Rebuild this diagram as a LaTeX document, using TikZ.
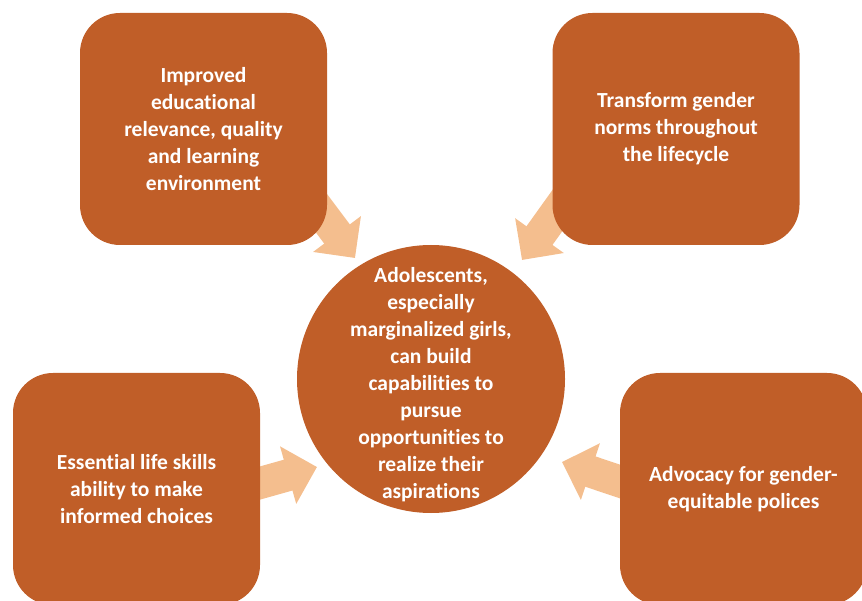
\documentclass[tikz,border=0pt]{standalone}
\usepackage{fontspec}
\setmainfont{Carlito}[Ligatures=NoCommon]
\usetikzlibrary{arrows.meta}

\definecolor{rust}{RGB}{192,94,40}
\definecolor{peach}{RGB}{244,190,142}

\tikzset{
  box/.style={fill=rust, rounded corners=40pt, minimum width=247pt, minimum height=232pt,
    text=white, font=\fontsize{21.5}{27}\selectfont\bfseries, align=center},
  hub/.style={circle, fill=rust, minimum size=268pt, inner sep=0pt},
  hubtext/.style={text=white, font=\fontsize{21.5}{27}\selectfont\bfseries, align=center},
  fatarrow/.style={draw=peach, line width=32pt, -{Triangle[width=58pt,length=30pt]}, peach}
}

\begin{document}
\begin{tikzpicture}[x=1pt,y=-1pt]
		\useasboundingbox (0,0) rectangle (862,601);
		\clip (0,0) rectangle (862,601);
		% feet of the arrows (hidden under the boxes) and their tips
		\coordinate (tlFoot) at (295,178);
		\coordinate (tlTip) at (355,258);
		\coordinate (trFoot) at (580,179);
		\coordinate (trTip) at (522,260);
		\coordinate (blFoot) at (221,494);
		\coordinate (blTip) at (317,467);
		\coordinate (brFoot) at (657,494);
		\coordinate (brTip) at (562,462);
		\draw [fatarrow] (tlFoot)--(tlTip);
		\draw [fatarrow] (trFoot)--(trTip);
		\draw [fatarrow] (blFoot)--(blTip);
		\draw [fatarrow] (brFoot)--(brTip);
		% the four boxes
		\node [box] (educ) at (203.5,129) {Improved\\educational\\relevance, quality\\and learning\\environment};
		\node [box] (norms) at (676,129) {Transform gender\\norms throughout\\the lifecycle};
		\node [box] (skills) at (136.5,489) {Essential life skills\\ability to make\\informed choices};
		\node [box] (advocacy) at (743.5,489) {Advocacy for gender-\\equitable polices};
		% centre
		\node [hub] (girls) at (431,379) {};
		\node [hubtext] (girlsText) at (431,385)
		  {Adolescents,\\especially\\marginalized girls,\\can build\\capabilities to\\pursue\\opportunities to\\realize their\\aspirations};
\end{tikzpicture}
\end{document}
